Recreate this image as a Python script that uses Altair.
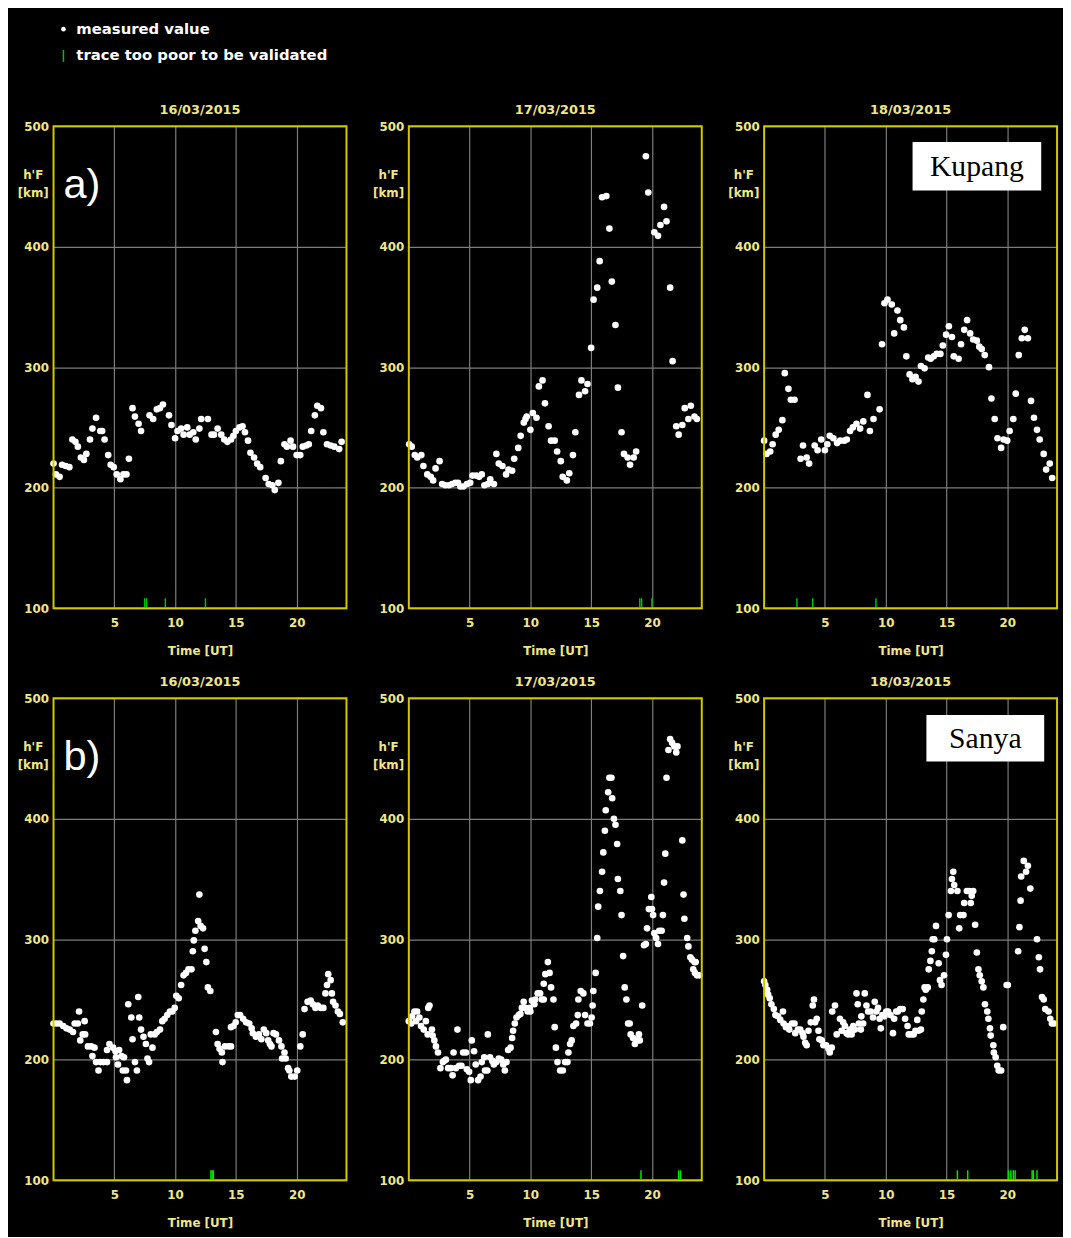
import altair as alt
import pandas as pd

# ---------------- data ----------------
legend_labels = ["measured value", "trace too poor to be validated"]
dates = ["16/03/2015", "17/03/2015", "18/03/2015"]
row_labels = ["a)", "b)"]
stations = ["Kupang", "Sanya"]
x_tick_values = [5, 10, 15, 20]
y_tick_values = [100, 200, 300, 400, 500]

# Kupang 16/03
a1_t = [0.0, 0.2, 0.5, 0.7, 1.0, 1.3, 1.55, 1.8, 2.0, 2.25,
        2.5, 2.7, 3.0, 3.2, 3.5, 3.85, 4.0, 4.2, 4.5, 4.7,
        4.95, 5.2, 5.5, 5.75, 6.0, 6.2, 6.5, 6.7, 7.0, 7.2,
        7.9, 8.2, 8.5, 8.75, 9.0, 9.5, 9.7, 10.0, 10.2, 10.5,
        10.7, 11.0, 11.2, 11.5, 11.7, 12.0, 12.15, 12.7, 13.0, 13.2,
        13.5, 13.8, 14.05, 14.3, 14.6, 14.8, 15.0, 15.3, 15.55, 15.75,
        16.0, 16.2, 16.5, 16.75, 17.0, 17.45, 17.7, 18.0, 18.2, 18.5,
        18.7, 19.0, 19.2, 19.5, 19.7, 20.0, 20.3, 20.5, 20.8, 21.0,
        21.2, 21.5, 21.7, 22.0, 22.2, 22.5, 22.8, 23.1, 23.5, 23.7]
a1_h = [220, 211, 209, 219, 218, 217, 240, 238, 234, 225,
        223, 228, 240, 249, 258, 247, 247, 240, 227, 219,
        217, 211, 207, 211, 211, 224, 266, 259, 253, 247,
        260, 257, 265, 266, 269, 260, 252, 241, 247, 249,
        244, 250, 244, 246, 240, 249, 257, 257, 244, 244,
        249, 244, 240, 238, 240, 243, 247, 250, 251, 246,
        239, 229, 225, 220, 217, 208, 203, 202, 198, 204,
        222, 236, 234, 239, 234, 227, 227, 234, 235, 236,
        247, 260, 268, 266, 246, 236, 235, 234, 232, 238]
a1_poor = [7.5, 7.65, 9.2, 12.5]

# Kupang 17/03
a2_t = [0.03, 0.24, 0.49, 0.7, 1.03, 1.2, 1.52, 1.8, 2.0, 2.2,
        2.53, 2.74, 3.0, 3.3, 3.56, 3.83, 4.05, 4.24, 4.5, 4.78,
        5.05, 5.24, 5.54, 5.79, 6.0, 6.22, 6.5, 6.7, 7.0, 7.2,
        7.4, 7.7, 8.0, 8.2, 8.5, 8.67, 9.0, 9.2, 9.46, 9.6,
        9.7, 10.0, 10.2, 10.5, 10.7, 11.0, 11.2, 11.5, 11.7, 12.0,
        12.2, 12.5, 12.66, 13.0, 13.2, 13.5, 13.7, 14.0, 14.2, 14.5,
        14.7, 15.0, 15.2, 15.5, 15.7, 15.9, 16.25, 16.5, 16.7, 17.0,
        17.2, 17.5, 17.7, 18.0, 18.2, 18.5, 18.7, 19.5, 19.7, 20.2,
        20.5, 20.7, 21.0, 21.2, 21.5, 21.7, 22.0, 22.2, 22.5, 22.7,
        23.0, 23.2, 23.5, 23.7]
a2_h = [236, 234, 227, 225, 227, 218, 211, 209, 206, 216,
        222, 203, 202, 202, 203, 204, 204, 201, 201, 203,
        204, 210, 210, 209, 211, 202, 203, 207, 203, 228,
        220, 218, 211, 215, 214, 224, 233, 243, 254, 257,
        259, 248, 262, 258, 284, 289, 270, 251, 239, 239,
        230, 222, 209, 206, 212, 227, 246, 277, 289, 280,
        286, 316, 356, 366, 388, 441, 442, 415, 371, 335,
        283, 246, 228, 225, 219, 225, 230, 475, 445, 412,
        409, 418, 433, 421, 366, 305, 251, 244, 252, 266,
        257, 268, 259, 257]
a2_poor = [19.0, 19.15, 20.0]

# Kupang 18/03
a3_t = [0.0, 0.2, 0.5, 0.7, 0.95, 1.2, 1.5, 1.7, 2.0, 2.2,
        2.5, 3.0, 3.2, 3.5, 3.7, 4.16, 4.4, 4.7, 5.0, 5.2,
        5.4, 5.7, 6.0, 6.26, 6.6, 6.8, 7.07, 7.3, 7.6, 7.9,
        8.16, 8.5, 8.7, 9.0, 9.5, 9.7, 9.9, 10.15, 10.5, 10.7,
        10.97, 11.2, 11.5, 11.7, 11.97, 12.2, 12.46, 12.7, 12.9, 13.2,
        13.5, 13.7, 13.96, 14.2, 14.5, 14.7, 14.97, 15.2, 15.45, 15.6,
        16.0, 16.2, 16.46, 16.7, 16.95, 17.2, 17.5, 17.7, 17.9, 18.15,
        18.5, 18.7, 18.97, 19.2, 19.5, 19.7, 20.0, 20.2, 20.5, 20.7,
        20.95, 21.2, 21.44, 21.7, 21.96, 22.2, 22.45, 22.67, 23.0, 23.2,
        23.5, 23.7]
a3_h = [239, 228, 230, 236, 244, 248, 256, 295, 282, 273,
        273, 224, 235, 225, 220, 235, 231, 240, 231, 236,
        243, 241, 237, 239, 239, 240, 247, 250, 253, 249,
        255, 277, 247, 257, 265, 319, 353, 356, 352, 328,
        347, 339, 333, 309, 294, 290, 292, 288, 301, 299,
        308, 307, 309, 311, 311, 318, 327, 334, 325, 309,
        307, 319, 331, 339, 328, 323, 322, 317, 315, 310,
        300, 274, 257, 241, 233, 240, 239, 247, 257, 278,
        310, 324, 331, 324, 272, 258, 248, 240, 228, 215,
        220, 208]
a3_poor = [2.7, 4.0, 9.2]

# Sanya 16/03
b1_t = [0.0, 0.25, 0.5, 0.8, 1.06, 1.33, 1.6, 1.74, 2.0, 2.1,
        2.2, 2.4, 2.56, 2.6, 2.83, 3.1, 3.2, 3.37, 3.5, 3.7,
        3.86, 4.1, 4.4, 4.4, 4.6, 4.9, 5.1, 5.14, 5.3, 5.4,
        5.6, 5.7, 5.8, 5.96, 6.04, 6.15, 6.4, 6.5, 6.7, 6.86,
        6.97, 7.05, 7.2, 7.4, 7.6, 7.73, 7.86, 8.0, 8.14, 8.33,
        8.5, 8.76, 8.95, 9.14, 9.36, 9.58, 9.77, 9.97, 10.1, 10.3,
        10.5, 10.7, 10.9, 11.1, 11.35, 11.46, 11.54, 11.67, 11.9, 12.0,
        12.1, 12.3, 12.43, 12.57, 12.7, 12.9, 13.36, 13.5, 13.66, 13.85,
        13.9, 14.1, 14.4, 14.6, 14.6, 14.8, 14.99, 15.16, 15.35, 15.6,
        15.84, 16.1, 16.3, 16.4, 16.65, 16.9, 17.1, 17.3, 17.5, 17.66,
        17.8, 17.93, 18.1, 18.3, 18.55, 18.75, 18.8, 19.0, 19.1, 19.3,
        19.4, 19.56, 19.84, 20.05, 20.3, 20.5, 20.65, 20.9, 21.15, 21.33,
        21.55, 21.74, 22.0, 22.2, 22.37, 22.5, 22.6, 22.8, 22.9, 23.0,
        23.2, 23.4, 23.56, 23.8]
b1_h = [230, 230, 230, 228, 226, 225, 223, 230, 230, 240,
        216, 221, 232, 221, 211, 211, 203, 210, 198, 191,
        198, 198, 198, 208, 213, 210, 207, 202, 196, 208,
        203, 191, 202, 191, 183, 246, 235, 217, 198, 191,
        252, 235, 225, 219, 213, 201, 198, 221, 210, 221,
        223, 225, 232, 234, 237, 240, 240, 243, 253, 251,
        262, 270, 272, 275, 275, 290, 299, 307, 315, 337,
        311, 309, 292, 281, 260, 257, 223, 213, 209, 206,
        198, 211, 211, 211, 227, 228, 231, 237, 237, 234,
        231, 230, 226, 222, 219, 221, 217, 225, 222, 216,
        213, 211, 222, 221, 216, 211, 201, 206, 201, 193,
        191, 186, 186, 191, 211, 221, 242, 248, 249, 246,
        243, 245, 243, 243, 255, 262, 271, 266, 255, 248,
        245, 240, 238, 231]
b1_poor = [12.95, 13.05, 13.15]

# Sanya 17/03
b2_t = [0.0, 0.2, 0.27, 0.46, 0.6, 0.68, 0.87, 1.0, 1.23, 1.4,
        1.55, 1.6, 1.7, 1.9, 1.96, 2.1, 2.23, 2.4, 2.6, 2.8,
        2.9, 3.05, 3.24, 3.46, 3.6, 3.68, 3.87, 4.0, 4.14, 4.33,
        4.47, 4.7, 4.77, 4.96, 5.1, 5.18, 5.37, 5.5, 5.7, 5.9,
        6.0, 6.2, 6.27, 6.46, 6.5, 6.68, 6.87, 7.0, 7.2, 7.4,
        7.6, 7.77, 7.9, 8.04, 8.17, 8.37, 8.5, 8.58, 8.72, 8.86,
        9.05, 9.18, 9.3, 9.45, 9.6, 9.78, 9.95, 10.0, 10.13, 10.33,
        10.4, 10.6, 10.8, 10.95, 11.1, 11.1, 11.23, 11.44, 11.58, 11.7,
        11.9, 12.0, 12.1, 12.23, 12.45, 12.67, 12.86, 13.05, 13.13, 13.27,
        13.4, 13.54, 13.76, 13.9, 13.95, 14.14, 14.36, 14.5, 14.7, 14.9,
        15.04, 15.12, 15.18, 15.37, 15.5, 15.58, 15.72, 15.9, 16.0, 16.13,
        16.2, 16.4, 16.5, 16.67, 16.73, 16.87, 17.0, 17.14, 17.2, 17.4,
        17.5, 17.63, 17.76, 17.9, 18.04, 18.17, 18.25, 18.45, 18.6, 18.8,
        18.93, 19.0, 19.2, 19.35, 19.5, 19.6, 19.75, 19.95, 20.0, 20.1,
        20.2, 20.35, 20.5, 20.6, 20.8, 20.9, 21.0, 21.1, 21.2, 21.36,
        21.5, 21.66, 21.85, 22.0, 22.1, 22.5, 22.6, 22.67, 22.9, 23.0,
        23.16, 23.3, 23.4, 23.5, 23.54, 23.6, 23.7, 23.9]
b2_h = [232, 230, 236, 240, 232, 240, 235, 228, 225, 232,
        221, 243, 245, 225, 220, 216, 211, 206, 193, 198,
        199, 200, 193, 193, 187, 206, 193, 225, 195, 195,
        206, 206, 192, 190, 183, 216, 207, 196, 183, 186,
        198, 202, 191, 191, 221, 202, 199, 196, 198, 201,
        200, 196, 191, 198, 208, 210, 218, 224, 230, 235,
        237, 238, 243, 248, 243, 240, 243, 240, 249, 246,
        250, 255, 255, 250, 250, 263, 271, 281, 272, 260,
        250, 227, 210, 198, 191, 191, 198, 198, 206, 213,
        216, 228, 230, 237, 250, 257, 255, 237, 230, 230,
        235, 245, 257, 272, 301, 327, 340, 356, 372, 390,
        407, 422, 434, 434, 417, 400, 395, 379, 350, 340,
        320, 286, 260, 250, 230, 230, 221, 218, 213, 216,
        221, 216, 245, 295, 296, 309, 325, 335, 325, 320,
        305, 301, 296, 307, 307, 320, 347, 371, 434, 457,
        466, 463, 460, 455, 460, 382, 337, 317, 301, 294,
        285, 283, 275, 281, 272, 281, 270, 270]
b2_poor = [19.1, 22.2, 22.35]

# Sanya 18/03
b3_t = [0.0, 0.1, 0.25, 0.33, 0.46, 0.6, 0.8, 0.93, 1.14, 1.33,
        1.55, 1.6, 1.8, 1.96, 2.07, 2.3, 2.5, 2.56, 2.78, 2.97,
        3.16, 3.24, 3.38, 3.5, 3.65, 3.84, 4.0, 4.1, 4.2, 4.33,
        4.47, 4.55, 4.74, 4.88, 5.1, 5.3, 5.4, 5.56, 5.6, 5.83,
        5.97, 6.24, 6.38, 6.5, 6.65, 6.78, 6.92, 7.06, 7.2, 7.33,
        7.47, 7.6, 7.7, 7.8, 7.96, 8.0, 8.15, 8.28, 8.42, 8.56,
        8.77, 8.96, 9.1, 9.24, 9.37, 9.5, 9.6, 9.73, 9.9, 10.05,
        10.2, 10.4, 10.6, 10.7, 10.87, 11.0, 11.2, 11.4, 11.6, 11.8,
        11.9, 12.1, 12.3, 12.45, 12.6, 12.7, 12.9, 12.97, 13.1, 13.2,
        13.3, 13.46, 13.54, 13.68, 13.8, 13.87, 14.0, 14.14, 14.36, 14.47,
        14.6, 14.8, 14.96, 15.04, 15.18, 15.37, 15.45, 15.56, 15.64, 15.9,
        16.05, 16.13, 16.4, 16.46, 16.68, 16.87, 17.0, 17.08, 17.2, 17.36,
        17.5, 17.63, 17.74, 17.9, 18.04, 18.17, 18.36, 18.45, 18.58, 18.64,
        18.86, 18.9, 19.05, 19.18, 19.3, 19.5, 19.67, 19.95, 20.05, 20.9,
        21.0, 21.1, 21.15, 21.36, 21.55, 21.7, 21.9, 22.45, 22.6, 22.7,
        22.86, 23.0, 23.13, 23.4, 23.54, 23.68, 23.87]
b3_h = [265, 262, 258, 254, 251, 246, 242, 237, 236, 233,
        240, 230, 227, 228, 225, 230, 230, 222, 225, 225,
        222, 219, 214, 212, 224, 231, 245, 250, 231, 234,
        224, 217, 216, 212, 212, 209, 206, 210, 240, 245,
        221, 234, 224, 231, 228, 222, 221, 225, 221, 228,
        225, 255, 246, 230, 225, 236, 230, 255, 245, 240,
        240, 235, 248, 240, 243, 234, 226, 237, 236, 240,
        240, 237, 222, 234, 240, 240, 242, 242, 234, 228,
        221, 221, 221, 224, 233, 224, 225, 240, 250, 260,
        258, 260, 275, 282, 290, 300, 300, 311, 280, 266,
        262, 270, 287, 300, 320, 340, 350, 356, 345, 340,
        309, 320, 320, 330, 340, 340, 330, 336, 340, 312,
        289, 275, 270, 265, 260, 246, 240, 234, 226, 220,
        212, 206, 202, 195, 191, 191, 227, 262, 262, 290,
        310, 332, 352, 365, 356, 361, 342, 300, 285, 275,
        252, 250, 242, 240, 234, 230, 230]
b3_poor = [15.9, 16.75, 20.1, 20.3, 20.5, 20.65, 22.05, 22.15, 22.45]

# ---------------- style ----------------
W, H = 296, 487
XMAX = 24.1
FRAME = "#d4c800"
TXT = "#f0e68c"
GRIDC = "#7c7c7c"
FONT = "DejaVu Sans"
GREEN_A = "#00c000"
GREEN_B = "#00e600"


def panel(t, h, poor, date, green, label=None, station=None, box=None):
    xs = alt.Scale(domain=[0, XMAX], nice=False, zero=False)
    ys = alt.Scale(domain=[100, 500], nice=False, zero=False)
    xaxis = alt.Axis(values=x_tick_values, title="Time [UT]", grid=True,
                     gridColor=GRIDC, gridWidth=1.2, domain=False, ticks=False,
                     labelColor=TXT, labelFont=FONT, labelFontWeight="bold",
                     labelFontSize=12, labelPadding=10, labelFlush=False,
                     titleColor=TXT, titleFont=FONT, titleFontWeight="bold",
                     titleFontSize=12, titlePadding=17)
    yaxis = alt.Axis(values=y_tick_values, title=["h'F", "[km]"], grid=True,
                     gridColor=GRIDC, gridWidth=1.2, domain=False, ticks=False,
                     labelColor=TXT, labelFont=FONT, labelFontWeight="bold",
                     labelFontSize=12, labelPadding=5,
                     titleColor=TXT, titleFont=FONT, titleFontWeight="bold",
                     titleFontSize=12, titleAngle=0, titleX=-21, titleY=44,
                     titleAlign="center", titleBaseline="top", titleLineHeight=18)
    df = pd.DataFrame({"t": t, "h": h})
    pts = alt.Chart(df).mark_circle(size=45, color="white", opacity=1).encode(
        x=alt.X("t:Q", scale=xs, axis=xaxis),
        y=alt.Y("h:Q", scale=ys, axis=yaxis),
    )
    tk = alt.Chart(pd.DataFrame({"t": poor})).mark_rule(
        color=green, strokeWidth=1.5).encode(
        x=alt.X("t:Q", scale=xs, axis=xaxis),
        y=alt.value(H - 1), y2=alt.value(H - 10),
    )
    frame = alt.Chart(alt.Data(values=[{}])).mark_rect(
        fillOpacity=0, stroke=FRAME, strokeWidth=2).encode(
        x=alt.value(0), x2=alt.value(W), y=alt.value(0), y2=alt.value(H))
    layers = [pts, tk]
    if label is not None:
        layers.append(
            alt.Chart(pd.DataFrame({"s": [label]})).mark_text(
                align="left", baseline="alphabetic", color="white",
                font="Liberation Sans", fontSize=42).encode(
                text="s:N", x=alt.value(10), y=alt.value(73)))
    if station is not None:
        bx0, by0, bx1, by1 = box
        layers.append(
            alt.Chart(alt.Data(values=[{}])).mark_rect(fill="white").encode(
                x=alt.value(bx0), x2=alt.value(bx1),
                y=alt.value(by0), y2=alt.value(by1)))
        layers.append(
            alt.Chart(pd.DataFrame({"s": [station]})).mark_text(
                align="center", baseline="middle", color="black",
                font="Liberation Serif", fontSize=30).encode(
                text="s:N", x=alt.value((bx0 + bx1) / 2),
                y=alt.value((by0 + by1) / 2 + 1)))
    layers.append(frame)
    return alt.layer(*layers).properties(
        width=W, height=H,
        title=alt.TitleParams(text=date, color=TXT, font=FONT, fontSize=13,
                              fontWeight="bold", offset=3, anchor="middle"))


a1 = panel(a1_t, a1_h, a1_poor, dates[0], GREEN_A, label=row_labels[0])
a2 = panel(a2_t, a2_h, a2_poor, dates[1], GREEN_A)
a3 = panel(a3_t, a3_h, a3_poor, dates[2], GREEN_A, station=stations[0],
           box=(150, 16, 280, 65))
b1 = panel(b1_t, b1_h, b1_poor, dates[0], GREEN_B, label=row_labels[1])
b2 = panel(b2_t, b2_h, b2_poor, dates[1], GREEN_B)
b3 = panel(b3_t, b3_h, b3_poor, dates[2], GREEN_B, station=stations[1],
           box=(164, 17, 283, 64))

# legend block
leg_dot = alt.Chart(pd.DataFrame({"s": [legend_labels[0]]})).mark_circle(
    size=22, color="white", opacity=1).encode(x=alt.value(10), y=alt.value(10))
leg_tick = alt.Chart(pd.DataFrame({"s": [legend_labels[1]]})).mark_rule(
    color=GREEN_A, strokeWidth=1.5).encode(
    x=alt.value(10), y=alt.value(31), y2=alt.value(43))
leg_t1 = alt.Chart(pd.DataFrame({"s": [legend_labels[0]]})).mark_text(
    align="left", baseline="middle", color="white", font=FONT, fontSize=15,
    fontWeight="bold").encode(text="s:N", x=alt.value(23), y=alt.value(9.5))
leg_t2 = alt.Chart(pd.DataFrame({"s": [legend_labels[1]]})).mark_text(
    align="left", baseline="middle", color="white", font=FONT, fontSize=15,
    fontWeight="bold").encode(text="s:N", x=alt.value(23), y=alt.value(36.5))
legend = alt.layer(leg_dot, leg_tick, leg_t1, leg_t2).properties(width=400, height=66)

row_a = alt.hconcat(a1, a2, a3, spacing=25)
row_b = alt.hconcat(b1, b2, b3, spacing=25)

chart = alt.vconcat(legend, row_a, row_b, spacing=20).properties(
    background="black",
    padding={"left": 9, "top": 5, "right": 5, "bottom": 2},
).configure_view(stroke=None)

chart.save("out.html", embed_options={"renderer": "svg", "actions": False})
